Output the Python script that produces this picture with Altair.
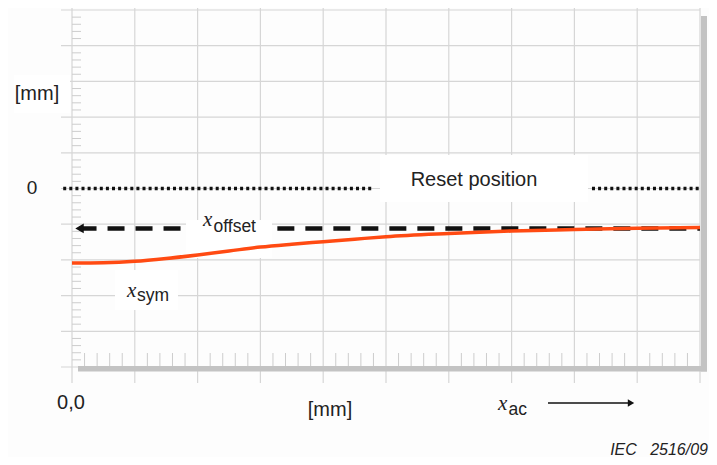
import altair as alt
import pandas as pd

# ---------------- data ----------------
x_pos = [0, 0.5, 1, 1.5, 2, 2.5, 3, 3.5, 4, 4.5, 5, 6, 7, 8, 9, 10]
x_sym = [-2.09, -2.08, -2.04, -1.96, -1.86, -1.75, -1.64, -1.56, -1.49, -1.42, -1.35, -1.26, -1.19, -1.15, -1.11, -1.09]

x_offset_level = -1.12
dash_starts = [0.12, 3.27]
dash_ends = [1.75, 10.0]

reset_level = 0
dot_starts = [-0.14, 8.28]
dot_ends = [4.78, 10.1]

x_major = list(range(0, 11))
y_major = list(range(-5, 6))
x_minor = [round(i * 0.2, 1) for i in range(51) if i % 5]
y_minor = [round(-5 + i * 0.2, 1) for i in range(51) if i % 5]

label_y_unit = "[mm]"
label_zero = "0"
label_origin = "0,0"
label_x_unit = "[mm]"
label_reset = "Reset position"
label_x = "x"
sub_offset = "offset"
sub_sym = "sym"
sub_ac = "ac"
label_iec = "IEC\u00a0\u00a0\u00a02516/09"

# ---------------- chart ----------------
W, H = 628, 357
GRID = "#d6d6d6"
MINOR = "#cdcdcd"
SHADOW = "#c3c3c3"
TXT = "#222222"
SANS = "Liberation Sans"
SERIF = "Liberation Serif"

xs = alt.Scale(domain=[0, 10], nice=False, zero=False)
ys = alt.Scale(domain=[-5, 5], nice=False, zero=False)

one = alt.Data(values=[{}])

curve_df = pd.DataFrame({"x": x_pos, "y": x_sym})

v_grid = alt.Chart(pd.DataFrame({"x": x_major})).mark_rule(
    color=GRID, strokeWidth=1.2
).encode(
    x=alt.X("x:Q", scale=xs, axis=None),
    y=alt.value(-2), y2=alt.value(H + 16),
)

h_grid = alt.Chart(pd.DataFrame({"y": y_major})).mark_rule(
    color=GRID, strokeWidth=1.2
).encode(
    y=alt.Y("y:Q", scale=ys, axis=None),
    x=alt.value(-11), x2=alt.value(W),
)

y_minor_layer = alt.Chart(pd.DataFrame({"y": y_minor})).mark_rule(
    color=MINOR, strokeWidth=1
).encode(
    y=alt.Y("y:Q", scale=ys, axis=None),
    x=alt.value(0), x2=alt.value(9),
)

x_minor_layer = alt.Chart(pd.DataFrame({"x": x_minor})).mark_rule(
    color=MINOR, strokeWidth=1
).encode(
    x=alt.X("x:Q", scale=xs, axis=None),
    y=alt.value(343), y2=alt.value(356),
)


def box(x1, x2, y1, y2):
    return alt.Chart(one).mark_rect(color="white").encode(
        x=alt.value(x1), x2=alt.value(x2), y=alt.value(y1), y2=alt.value(y2)
    )


boxes = [
    box(308, 516, 145, 192),   # Reset position
    box(114, 200, 210, 248),   # x_offset
    box(43, 106, 260, 300),    # x_sym
    box(-58, -2, 65, 103),     # [mm]
]

dots_df = pd.DataFrame({"x0": dot_starts, "x1": dot_ends, "y": [reset_level] * 2})
dotted = alt.Chart(dots_df).mark_rule(
    color="#111111", strokeWidth=3.5, strokeDash=[3, 3.1], strokeCap="butt"
).encode(
    x=alt.X("x0:Q", scale=xs, axis=None), x2="x1:Q",
    y=alt.Y("y:Q", scale=ys, axis=None),
)

dash_df = pd.DataFrame({"x0": dash_starts, "x1": dash_ends, "y": [x_offset_level] * 2})
dashed = alt.Chart(dash_df).mark_rule(
    color="#111111", strokeWidth=4.5, strokeDash=[17, 11], strokeCap="butt"
).encode(
    x=alt.X("x0:Q", scale=xs, axis=None), x2="x1:Q",
    y=alt.Y("y:Q", scale=ys, axis=None),
)

arrow_head = alt.Chart(pd.DataFrame({"x": [dash_starts[0]], "y": [x_offset_level]})).mark_point(
    shape="triangle-left", filled=True, color="#111111", size=95, opacity=1
).encode(
    x=alt.X("x:Q", scale=xs, axis=None),
    y=alt.Y("y:Q", scale=ys, axis=None),
)

curve = alt.Chart(curve_df).mark_line(
    color="#ff4a12", strokeWidth=3.5, interpolate="monotone"
).encode(
    x=alt.X("x:Q", scale=xs, axis=None),
    y=alt.Y("y:Q", scale=ys, axis=None),
)


def text(t, x, y, size, font=SANS, align="left", style="normal"):
    return alt.Chart(one).mark_text(
        font=font, fontSize=size, align=align, baseline="alphabetic",
        color=TXT, fontStyle=style
    ).encode(x=alt.value(x), y=alt.value(y), text=alt.value(t))


texts = [
    text(label_y_unit, -35, 90, 20, align="center"),
    text(label_zero, -40, 184, 19, align="center"),
    text(label_origin, -1, 399, 20, align="center"),
    text(label_x_unit, 258, 406, 20, align="center"),
    text(label_reset, 402, 176, 20, align="center"),
    text(label_x, 131, 216, 21, font=SERIF, style="italic"),
    text(sub_offset, 141.5, 222, 17.5),
    text(label_x, 55, 286.5, 21, font=SERIF, style="italic"),
    text(sub_sym, 65, 291, 17.5),
    text(label_x, 426, 400, 21, font=SERIF, style="italic"),
    text(sub_ac, 436.5, 404.5, 17.5),
    text(label_iec, 636, 445, 16, align="right", style="italic"),
]

ac_arrow_line = alt.Chart(one).mark_rule(color="#111111", strokeWidth=1.6).encode(
    x=alt.value(476), x2=alt.value(556), y=alt.value(393)
)
ac_arrow_head = alt.Chart(one).mark_point(
    shape="triangle-right", filled=True, color="#111111", size=55, opacity=1
).encode(x=alt.value(559), y=alt.value(393))

shadow_bottom = alt.Chart(one).mark_rule(color=SHADOW, strokeWidth=5.5).encode(
    x=alt.value(6), x2=alt.value(635), y=alt.value(358.8)
)
shadow_right = alt.Chart(one).mark_rule(color=SHADOW, strokeWidth=6).encode(
    x=alt.value(632), y=alt.value(6), y2=alt.value(361.5)
)

chart = alt.layer(
    v_grid, h_grid, y_minor_layer, x_minor_layer, *boxes, dotted, dashed, arrow_head,
    curve, *texts, ac_arrow_line, ac_arrow_head, shadow_bottom, shadow_right
).properties(
    width=W, height=H,
    padding={"left": 64, "top": 2, "right": 9, "bottom": 90},
    autosize=alt.AutoSizeParams(type="none"),
    background="#fdfdfd",
).configure_view(stroke=None)

chart.save("out.html", embed_options={"renderer": "svg", "actions": False})
